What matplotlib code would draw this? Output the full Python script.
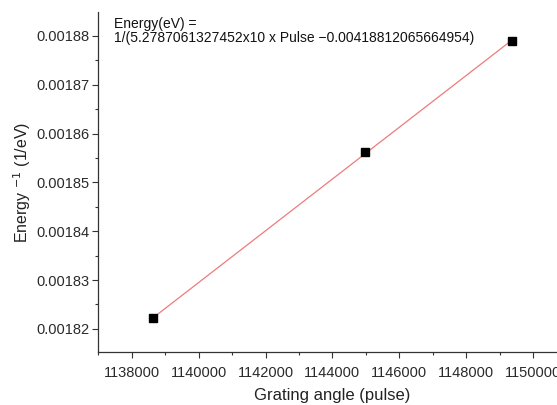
import numpy as np
import matplotlib
matplotlib.use('Agg')
import matplotlib.pyplot as plt
from matplotlib.ticker import MultipleLocator, FormatStrFormatter

# 測定データ
pulse = [1138650, 1144980, 1149380]
inv_energy = [0.0018222, 0.0018562, 0.0018790]

x_ticks = [1138000, 1140000, 1142000, 1144000, 1146000, 1148000, 1150000]
y_ticks = [0.00182, 0.00183, 0.00184, 0.00185, 0.00186, 0.00187, 0.00188]

fit_text = ["Energy(eV) =",
            "1/(5.2787061327452x10 x Pulse \u22120.00418812065664954)"]

plt.rcParams['font.family'] = ['Liberation Sans', 'DejaVu Sans']

fig = plt.figure(figsize=(5.57, 4.05), dpi=100)
ax = fig.add_axes([0.1765, 0.1301, 0.8405, 0.8404])

# 一次フィット
k, b = np.polyfit(pulse, inv_energy, 1)
xf = np.array([min(pulse), max(pulse)])
ax.plot(xf, k * xf + b, color='#ee7b7b', lw=0.9, zorder=2)
ax.plot(pulse, inv_energy, 's', color='black', ms=5.5, zorder=3)

ax.set_xlim(1137000, 1151000)
ax.set_ylim(0.0018152, 0.0018849)
ax.set_xticks(x_ticks)
ax.set_yticks(y_ticks)
ax.xaxis.set_minor_locator(MultipleLocator(1000))
ax.yaxis.set_minor_locator(MultipleLocator(0.000005))
ax.xaxis.set_major_formatter(FormatStrFormatter('%d'))
ax.yaxis.set_major_formatter(FormatStrFormatter('%.5f'))

for s in ['top', 'right']:
    ax.spines[s].set_visible(False)
for s in ['left', 'bottom']:
    ax.spines[s].set_color('#333333')
    ax.spines[s].set_linewidth(0.9)

ax.tick_params(which='major', direction='out', length=4.5, width=0.8,
               color='#333333', labelsize=10.5, labelcolor='#2a2a2a')
ax.tick_params(axis='y', which='major', pad=2)
ax.tick_params(axis='x', which='major', pad=5)
ax.tick_params(which='minor', direction='out', length=2.5, width=0.8, color='#333333')

ax.set_xlabel('Grating angle (pulse)', fontsize=12, color='#222222', labelpad=6)
ax.set_ylabel('Energy $^{-1}$ (1/eV)', fontsize=11.5, color='#222222', labelpad=2)

ax.text(0.033, 0.965, fit_text[0], transform=ax.transAxes, fontsize=10,
        va='center', ha='left', color='#111111')
ax.text(0.033, 0.924, fit_text[1], transform=ax.transAxes, fontsize=10,
        va='center', ha='left', color='#111111')

fig.savefig('out.png', dpi=100)
